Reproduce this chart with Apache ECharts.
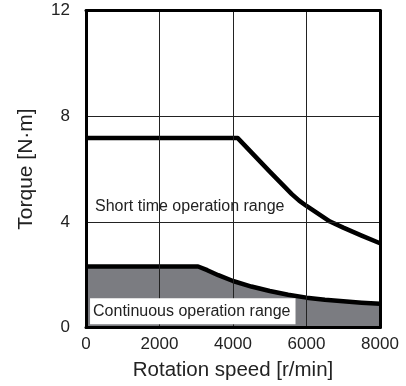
<!DOCTYPE html>
<html>
<head>
<meta charset="utf-8">
<script src="https://cdn.jsdelivr.net/npm/echarts@6/dist/echarts.min.js"></script>
<style>
html,body{margin:0;padding:0;background:#fff;}
#main{width:406px;height:386px;}
</style>
</head>
<body>
<div id="main"></div>
<script>
var xTicks = [0, 2000, 4000, 6000, 8000];
var yTicks = [0, 4, 8, 12];
var shortTimeSpeed  = [0, 4130, 5000, 5600, 5800, 6000, 6640, 7000, 7500, 8000];
var shortTimeTorque = [7.17, 7.17, 5.9, 5.05, 4.8, 4.6, 4.01, 3.78, 3.48, 3.19];
var contSpeed  = [0, 3050, 3300, 3600, 4000, 4500, 5000, 5500, 6000, 6500, 7000, 7500, 8000];
var contTorque = [2.31, 2.31, 2.17, 1.98, 1.76, 1.55, 1.38, 1.24, 1.13, 1.05, 0.99, 0.94, 0.9];
var shortLabel = 'Short time operation range';
var contLabel = 'Continuous operation range';

function pairs(xs, ys){ return xs.map(function(x,i){ return [x, ys[i]]; }); }

var FONT = '"Liberation Sans", Arial, sans-serif';
var chart = echarts.init(document.getElementById('main'), null, {renderer:'canvas'});
var frameAxis = { show: true, onZero: false, lineStyle: { color: '#000', width: 3 } };
var option = {
  animation: false,
  backgroundColor: '#fff',
  grid: { left: 86, right: 26, top: 10.5, bottom: 58.5, show: false },
  xAxis: [{
    type: 'value', min: xTicks[0], max: xTicks[xTicks.length-1], interval: 2000, z: 5,
    name: 'Rotation speed [r/min]', nameLocation: 'middle', nameGap: 32,
    nameTextStyle: { fontFamily: FONT, fontSize: 20.5, color: '#222', verticalAlign: 'top' },
    axisLine: frameAxis,
    axisTick: { show: false },
    axisLabel: { fontFamily: FONT, fontSize: 17, color: '#222', margin: 8, formatter: function(v){ return String(v); } },
    splitLine: { show: true, lineStyle: { color: '#222', width: 1 } }
  }, {
    type: 'value', position: 'top', min: 0, max: 8000, z: 5,
    axisLine: frameAxis,
    axisTick: { show: false }, axisLabel: { show: false }, splitLine: { show: false }
  }],
  yAxis: [{
    type: 'value', min: yTicks[0], max: yTicks[yTicks.length-1], interval: 4, z: 5,
    name: 'Torque [N\u00b7m]', nameLocation: 'middle', nameGap: 49, nameRotate: 90,
    nameTextStyle: { fontFamily: FONT, fontSize: 21, color: '#222' },
    axisLine: frameAxis,
    axisTick: { show: false },
    axisLabel: { fontFamily: FONT, fontSize: 17, color: '#222', margin: 16 },
    splitLine: { show: true, lineStyle: { color: '#222', width: 1 } }
  }, {
    type: 'value', position: 'right', min: 0, max: 12, z: 5,
    axisLine: frameAxis,
    axisTick: { show: false }, axisLabel: { show: false }, splitLine: { show: false }
  }],
  series: [{
    type: 'line', data: pairs(contSpeed, contTorque), showSymbol: false, z: 2,
    lineStyle: { color: '#000', width: 4.5, join: 'round' },
    areaStyle: { color: '#7b7c81', opacity: 1 }
  }, {
    type: 'line', data: pairs(shortTimeSpeed, shortTimeTorque), showSymbol: false, z: 2,
    lineStyle: { color: '#000', width: 4.5, join: 'round' }
  }]
};
chart.setOption(option);

var pShort = chart.convertToPixel({xAxisIndex:0, yAxisIndex:0}, [245, 4.57]);
var pCont = chart.convertToPixel({xAxisIndex:0, yAxisIndex:0}, [110, 0.12]);
chart.setOption({
  graphic: [{
    type: 'text', z: 100, x: pShort[0], y: pShort[1],
    style: { text: shortLabel, fontFamily: FONT, fontSize: 16, fill: '#222', verticalAlign: 'middle' }
  }, {
    type: 'text', z: 100, x: pCont[0], y: pCont[1],
    style: { text: contLabel, fontFamily: FONT, fontSize: 16, fill: '#222', verticalAlign: 'bottom',
             backgroundColor: '#fff', padding: [5, 5, 5, 3] }
  }]
});
</script>
</body>
</html>
